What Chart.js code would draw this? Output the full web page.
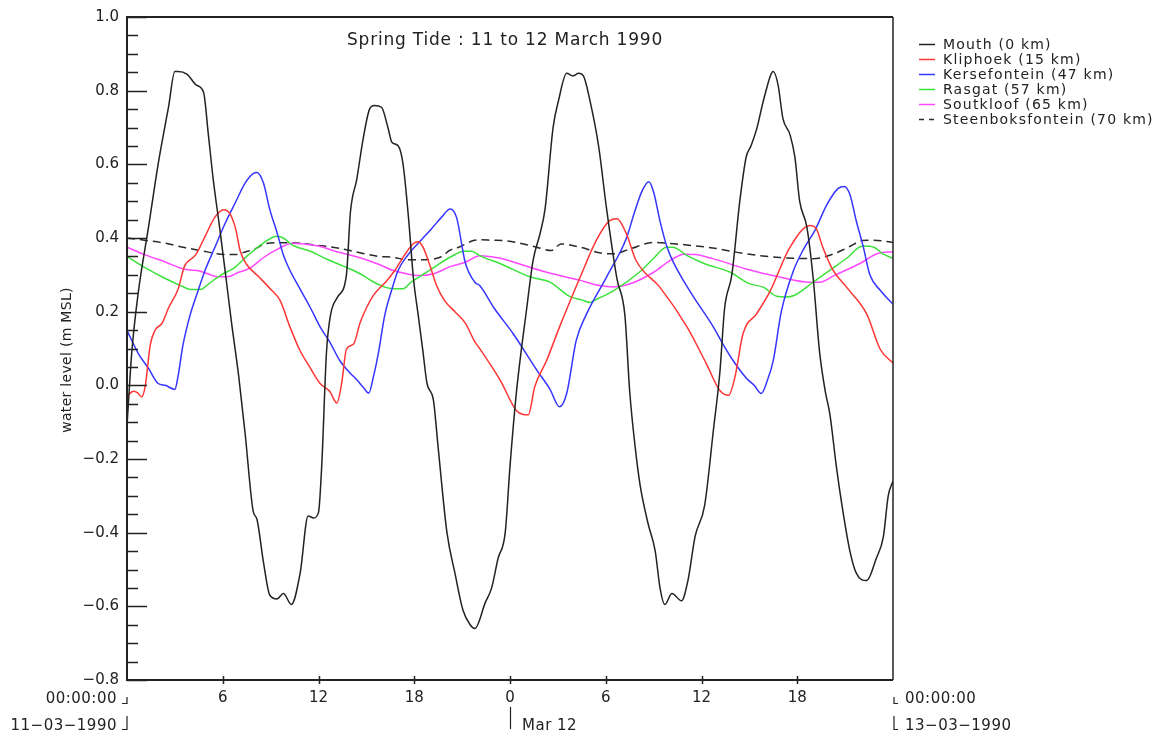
<!DOCTYPE html>
<html>
<head>
<meta charset="utf-8">
<title>Spring Tide : 11 to 12 March 1990</title>
<script src="https://cdn.jsdelivr.net/npm/chart.js@4.4.1/dist/chart.umd.min.js"></script>
<style>
  html, body { margin: 0; padding: 0; background: #fff; }
  #wrap { width: 1164px; height: 735px; position: relative; }
</style>
</head>
<body>
<div id="wrap"><canvas id="tide"></canvas></div>
<script>
// Hours since 00:00 on 11-03-1990, water level in m MSL
const mouthHours = [0, 0.3, 0.7, 1.35, 1.95, 2.6, 3.0, 3.2, 3.75, 4.35, 4.8, 5.1, 5.4, 5.8, 6.15, 6.55, 7.0, 7.4, 7.9, 8.15, 8.55, 8.95, 9.4, 9.8, 10.3, 10.85, 11.35, 11.7, 12.0, 12.2, 12.5, 12.75, 13.2, 13.75, 14.0, 14.4, 14.8, 15.2, 15.5, 15.95, 16.35, 16.6, 17.0, 17.3, 17.65, 17.95, 18.25, 18.55, 18.8, 19.2, 19.5, 20.05, 20.55, 21.05, 21.5, 21.8, 22.45, 22.85, 23.25, 23.7, 24.0, 24.4, 25.05, 25.45, 25.9, 26.2, 26.7, 27.05, 27.55, 27.95, 28.3, 28.6, 29.0, 29.55, 30.05, 30.7, 31.2, 31.5, 31.85, 32.15, 32.65, 33.1, 33.4, 33.7, 34.15, 34.75, 35.15, 35.6, 36.2, 36.75, 37.15, 37.45, 37.9, 38.4, 38.8, 39.1, 39.45, 39.95, 40.5, 40.8, 41.1, 41.55, 41.85, 42.15, 42.6, 43.0, 43.4, 43.75, 44.05, 44.45, 44.8, 45.3, 45.7, 46.35, 46.95, 47.4, 47.7, 48];
const mouthLevel = [-0.11, 0.09, 0.25, 0.43, 0.60, 0.755, 0.852, 0.852, 0.845, 0.815, 0.795, 0.68, 0.56, 0.43, 0.31, 0.17, 0.025, -0.13, -0.34, -0.365, -0.48, -0.57, -0.58, -0.565, -0.595, -0.51, -0.355, -0.36, -0.345, -0.22, 0.09, 0.19, 0.24, 0.30, 0.47, 0.56, 0.67, 0.75, 0.76, 0.755, 0.70, 0.66, 0.65, 0.60, 0.45, 0.29, 0.19, 0.09, 0.005, -0.04, -0.17, -0.40, -0.51, -0.61, -0.65, -0.66, -0.59, -0.55, -0.47, -0.40, -0.22, -0.02, 0.21, 0.34, 0.415, 0.48, 0.70, 0.775, 0.847, 0.84, 0.847, 0.84, 0.775, 0.65, 0.48, 0.29, 0.19, -0.016, -0.17, -0.27, -0.375, -0.45, -0.55, -0.595, -0.565, -0.585, -0.53, -0.41, -0.325, -0.12, 0.035, 0.21, 0.30, 0.50, 0.62, 0.65, 0.695, 0.785, 0.852, 0.815, 0.725, 0.68, 0.62, 0.50, 0.43, 0.29, 0.09, -0.015, -0.08, -0.22, -0.325, -0.45, -0.51, -0.53, -0.47, -0.41, -0.30, -0.26];

const kliphoekHours = [0, 0.4, 0.65, 0.92, 1.15, 1.45, 1.75, 2.2, 2.6, 3.2, 3.6, 4.3, 4.9, 5.5, 6.05, 6.45, 6.8, 7.1, 7.5, 8.3, 9.0, 9.6, 10.2, 10.8, 11.5, 12.1, 12.7, 13.15, 13.45, 13.75, 14.2, 14.6, 15.0, 15.45, 15.85, 16.2, 16.8, 17.4, 17.95, 18.25, 18.55, 19.0, 19.4, 19.9, 20.55, 21.2, 21.8, 22.1, 23.4, 24.4, 25.15, 25.55, 26.3, 27.1, 28.4, 29.4, 30.25, 30.7, 31.3, 31.9, 33.4, 35.1, 36.3, 37.15, 37.7, 38.1, 38.6, 39.45, 40.3, 41.55, 42.8, 43.2, 43.6, 44.25, 45.1, 46.35, 47.2, 48];
const kliphoekLevel = [-0.03, -0.016, -0.02, -0.031, 0.0, 0.108, 0.149, 0.169, 0.21, 0.261, 0.323, 0.354, 0.405, 0.456, 0.477, 0.466, 0.426, 0.364, 0.328, 0.293, 0.261, 0.23, 0.16, 0.098, 0.046, 0.005, -0.016, -0.048, 0.005, 0.098, 0.112, 0.169, 0.21, 0.245, 0.265, 0.28, 0.313, 0.354, 0.385, 0.39, 0.375, 0.323, 0.271, 0.23, 0.20, 0.169, 0.118, 0.10, 0.013, -0.068, -0.08, -0.004, 0.068, 0.158, 0.294, 0.393, 0.447, 0.452, 0.411, 0.339, 0.266, 0.158, 0.059, -0.014, -0.027, 0.023, 0.14, 0.194, 0.256, 0.375, 0.434, 0.425, 0.375, 0.312, 0.266, 0.194, 0.098, 0.06];

const kersefonteinHours = [0, 0.7, 1.35, 1.95, 2.4, 3.0, 3.2, 3.5, 3.95, 4.4, 4.9, 5.5, 6.15, 6.8, 7.4, 7.9, 8.15, 8.55, 8.95, 9.4, 9.8, 10.2, 10.85, 11.5, 12.1, 12.7, 13.35, 13.95, 14.4, 14.8, 15.15, 15.45, 15.75, 16.15, 16.6, 17.0, 17.6, 18.45, 19.1, 19.7, 20.25, 20.65, 21.2, 21.8, 22.1, 23.0, 24.2, 25.7, 26.5, 27.1, 27.55, 28.15, 28.8, 30.05, 31.3, 31.8, 32.3, 32.7, 33.0, 33.4, 33.85, 34.25, 34.9, 35.5, 36.75, 37.4, 38.0, 38.8, 39.3, 39.75, 40.1, 40.5, 41.0, 41.75, 42.4, 43.1, 43.85, 44.55, 44.95, 45.3, 45.7, 46.15, 46.55, 47.2, 48];
const kersefonteinLevel = [0.149, 0.087, 0.046, 0.005, 0.0, -0.011, 0.025, 0.108, 0.19, 0.25, 0.313, 0.374, 0.44, 0.497, 0.549, 0.575, 0.578, 0.549, 0.477, 0.415, 0.354, 0.313, 0.261, 0.21, 0.159, 0.118, 0.066, 0.035, 0.015, -0.005, -0.021, 0.025, 0.087, 0.19, 0.261, 0.313, 0.354, 0.395, 0.426, 0.456, 0.479, 0.456, 0.333, 0.28, 0.271, 0.21, 0.14, 0.04, -0.01, -0.058, -0.022, 0.122, 0.194, 0.294, 0.40, 0.47, 0.53, 0.553, 0.525, 0.446, 0.374, 0.333, 0.282, 0.24, 0.158, 0.108, 0.066, 0.02, 0.0, -0.022, 0.01, 0.068, 0.20, 0.31, 0.37, 0.42, 0.49, 0.534, 0.54, 0.518, 0.446, 0.374, 0.30, 0.258, 0.22];

const rasgatHours = [0, 1.1, 2.4, 3.4, 4.0, 4.6, 5.1, 5.9, 6.7, 7.6, 8.5, 9.4, 9.8, 10.4, 11.5, 12.5, 13.6, 14.6, 15.4, 16.2, 16.8, 17.3, 17.8, 18.7, 19.5, 20.3, 21.1, 21.6, 22.1, 23.4, 25.3, 26.5, 27.8, 28.5, 29.0, 29.5, 30.5, 32.1, 33.0, 33.8, 34.2, 35.1, 36.2, 37.8, 39.0, 39.9, 40.7, 41.3, 41.8, 43.0, 44.3, 45.1, 46.1, 46.8, 47.4, 48];
const rasgatLevel = [0.35, 0.32, 0.29, 0.27, 0.26, 0.26, 0.275, 0.30, 0.318, 0.354, 0.385, 0.405, 0.40, 0.38, 0.364, 0.343, 0.323, 0.303, 0.282, 0.266, 0.262, 0.262, 0.28, 0.305, 0.328, 0.349, 0.364, 0.364, 0.352, 0.33, 0.294, 0.28, 0.24, 0.232, 0.225, 0.235, 0.257, 0.307, 0.345, 0.375, 0.375, 0.352, 0.33, 0.307, 0.276, 0.266, 0.242, 0.24, 0.244, 0.28, 0.32, 0.345, 0.378, 0.375, 0.356, 0.345];

const soutkloofHours = [0, 1.1, 2.4, 3.6, 4.6, 5.7, 6.3, 7.0, 7.7, 8.5, 9.4, 10.4, 11.0, 12.3, 12.9, 14.4, 15.8, 16.6, 17.6, 18.3, 19.2, 20.3, 21.2, 22.1, 23.4, 24.2, 26.3, 28.4, 29.6, 30.5, 31.5, 33.0, 34.0, 34.9, 35.6, 36.7, 38.8, 40.9, 42.8, 43.4, 44.3, 45.9, 47.2, 48];
const soutkloofLevel = [0.375, 0.355, 0.335, 0.315, 0.31, 0.295, 0.295, 0.307, 0.318, 0.345, 0.369, 0.386, 0.384, 0.375, 0.366, 0.349, 0.328, 0.313, 0.302, 0.298, 0.303, 0.323, 0.334, 0.352, 0.345, 0.335, 0.307, 0.285, 0.271, 0.267, 0.275, 0.307, 0.338, 0.356, 0.355, 0.344, 0.316, 0.294, 0.28, 0.28, 0.298, 0.33, 0.36, 0.362];

const steenboksHours = [0, 1.1, 2.4, 3.6, 4.6, 5.9, 6.8, 7.4, 8.0, 8.7, 9.4, 10.4, 11.9, 12.9, 14.6, 15.8, 16.6, 17.6, 18.4, 19.7, 20.2, 20.8, 21.7, 22.1, 22.8, 23.8, 25.5, 26.6, 27.2, 28.4, 29.6, 30.5, 31.5, 33.0, 34.6, 36.7, 38.8, 40.9, 43.0, 44.3, 45.2, 46.1, 46.8, 48];
const steenboksLevel = [0.40, 0.394, 0.386, 0.374, 0.366, 0.356, 0.355, 0.362, 0.37, 0.385, 0.387, 0.387, 0.38, 0.375, 0.36, 0.35, 0.348, 0.341, 0.341, 0.349, 0.366, 0.375, 0.393, 0.395, 0.394, 0.392, 0.377, 0.366, 0.384, 0.375, 0.36, 0.357, 0.37, 0.388, 0.383, 0.373, 0.357, 0.347, 0.344, 0.357, 0.375, 0.393, 0.394, 0.388];

const stationNames = ['Mouth (0 km)', 'Kliphoek (15 km)', 'Kersefontein (47 km)', 'Rasgat (57 km)', 'Soutkloof (65 km)', 'Steenboksfontein (70 km)'];
const stationColors = ['#222222', '#ff3535', '#3535ff', '#3be23b', '#ff48ff', '#2a2a2a'];
const xTickHours = [6, 12, 18, 24, 30, 36, 42];

const FONT = 'DejaVu Sans';
const INK = '#222';

// pair hours with levels for a linear x axis
function toPoints(hours, level) {
  return hours.map((h, i) => ({ x: h, y: level[i] }));
}

function minusSign(s) {
  return s.replace('-', '\u2212');
}

const series = [
  [mouthHours, mouthLevel],
  [kliphoekHours, kliphoekLevel],
  [kersefonteinHours, kersefonteinLevel],
  [rasgatHours, rasgatLevel],
  [soutkloofHours, soutkloofLevel],
  [steenboksHours, steenboksLevel]
];

const datasets = series.map((s, i) => ({
  label: stationNames[i],
  data: toPoints(s[0], s[1]),
  borderColor: stationColors[i],
  borderWidth: 1.5,
  borderDash: i === 5 ? [8, 5] : [],
  pointRadius: 0,
  cubicInterpolationMode: 'monotone',
  fill: false
}));

// frame, inward ticks, date brackets, title, axis title and legend
const framePlugin = {
  id: 'frame',
  afterDraw(chart) {
    const ctx = chart.ctx;
    const { left, right, top, bottom } = chart.chartArea;
    const xs = chart.scales.x;
    const ys = chart.scales.y;

    ctx.save();
    ctx.strokeStyle = INK;
    ctx.lineCap = 'butt';

    // box
    ctx.lineWidth = 2;
    ctx.beginPath();
    ctx.moveTo(left, top); ctx.lineTo(right, top);
    ctx.moveTo(left, top - 1); ctx.lineTo(left, bottom + 1);
    ctx.moveTo(left, bottom); ctx.lineTo(right, bottom);
    ctx.stroke();
    ctx.lineWidth = 1.5;
    ctx.beginPath();
    ctx.moveTo(right, top); ctx.lineTo(right, bottom);
    ctx.stroke();

    // y ticks point into the plot
    ctx.lineWidth = 1.5;
    ctx.beginPath();
    ys.ticks.forEach(t => {
      const py = Math.round(ys.getPixelForValue(t.value)) + 0.5;
      const major = Math.abs(t.value * 5 - Math.round(t.value * 5)) < 1e-6;
      ctx.moveTo(left, py);
      ctx.lineTo(left + (major ? 20 : 11), py);
    });
    // x ticks cross the axis
    xs.ticks.forEach(t => {
      const px = Math.round(xs.getPixelForValue(t.value)) + 0.5;
      ctx.moveTo(px, bottom - 4);
      ctx.lineTo(px, bottom + 4);
    });
    ctx.stroke();

    // date brackets under the axis
    const x0 = xs.getPixelForValue(0);
    const x24 = xs.getPixelForValue(24);
    const x48 = xs.getPixelForValue(48);
    ctx.lineWidth = 1.2;
    ctx.beginPath();
    ctx.moveTo(x0, 697); ctx.lineTo(x0, 703.5); ctx.lineTo(x0 - 5, 703.5);
    ctx.moveTo(x0, 716); ctx.lineTo(x0, 729.5); ctx.lineTo(x0 - 5, 729.5);
    ctx.moveTo(x48 + 1, 697); ctx.lineTo(x48 + 1, 703.5); ctx.lineTo(x48 + 5, 703.5);
    ctx.moveTo(x48 + 1, 716); ctx.lineTo(x48 + 1, 729.5); ctx.lineTo(x48 + 5, 729.5);
    ctx.moveTo(Math.round(x24) + 0.5, 707); ctx.lineTo(Math.round(x24) + 0.5, 729);
    ctx.stroke();

    ctx.fillStyle = INK;
    ctx.font = '15px "' + FONT + '"';
    ctx.letterSpacing = '0.5px';
    ctx.textBaseline = 'alphabetic';
    ctx.textAlign = 'right';
    ctx.fillText('00:00:00', x0 - 10, 703);
    ctx.fillText(minusSign(minusSign('11-03-1990')), x0 - 10, 730);
    ctx.textAlign = 'left';
    ctx.fillText('00:00:00', x48 + 12, 703);
    ctx.fillText(minusSign(minusSign('13-03-1990')), x48 + 12, 730);
    ctx.fillText('Mar 12', x24 + 12, 730);

    // title inside the plot
    ctx.font = '17px "' + FONT + '"';
    ctx.letterSpacing = '0.8px';
    ctx.textAlign = 'center';
    ctx.fillText('Spring Tide : 11 to 12 March 1990', 505, 45);

    // y axis title
    ctx.save();
    ctx.translate(71, 360);
    ctx.rotate(-Math.PI / 2);
    ctx.font = '14px "' + FONT + '"';
    ctx.letterSpacing = '0.3px';
    ctx.textAlign = 'center';
    ctx.fillText('water level (m MSL)', 0, 0);
    ctx.restore();

    // legend
    ctx.font = '14px "' + FONT + '"';
    ctx.letterSpacing = '1.2px';
    ctx.textAlign = 'left';
    ctx.textBaseline = 'middle';
    chart.data.datasets.forEach((ds, i) => {
      const y = 44 + i * 15;
      ctx.strokeStyle = ds.borderColor;
      ctx.lineWidth = 1.5;
      ctx.setLineDash(ds.borderDash.length ? [5, 5] : []);
      ctx.beginPath();
      ctx.moveTo(919, y + 0.5);
      ctx.lineTo(935, y + 0.5);
      ctx.stroke();
      ctx.setLineDash([]);
      ctx.fillStyle = INK;
      ctx.fillText(ds.label, 943, y + 1);
    });
    ctx.restore();
  }
};

new Chart(document.getElementById('tide'), {
  type: 'line',
  data: { datasets: datasets },
  options: {
    responsive: true,
    maintainAspectRatio: false,
    animation: false,
    layout: { padding: { left: 0, top: 16, right: 271, bottom: 0 } },
    plugins: {
      legend: { display: false },
      tooltip: { enabled: false }
    },
    scales: {
      x: {
        type: 'linear',
        min: 0,
        max: 48,
        afterFit: s => { s.height = 55; },
        afterBuildTicks: s => { s.ticks = xTickHours.map(v => ({ value: v })); },
        grid: { display: false, drawTicks: false },
        border: { display: false },
        ticks: {
          autoSkip: false,
          maxRotation: 0,
          padding: 9,
          color: INK,
          font: { family: FONT, size: 15 },
          callback: v => String(v % 24)
        }
      },
      y: {
        min: -0.8,
        max: 1.0,
        afterFit: s => { s.width = 127; },
        grid: { display: false, drawTicks: false },
        border: { display: false },
        ticks: {
          stepSize: 0.05,
          autoSkip: false,
          padding: 8,
          color: INK,
          font: { family: FONT, size: 15 },
          callback: v => {
            const k = v * 5;
            if (Math.abs(k - Math.round(k)) > 1e-6) return '';
            return minusSign((Math.round(k) / 5).toFixed(1));
          }
        }
      }
    }
  },
  plugins: [framePlugin]
});
</script>
</body>
</html>
